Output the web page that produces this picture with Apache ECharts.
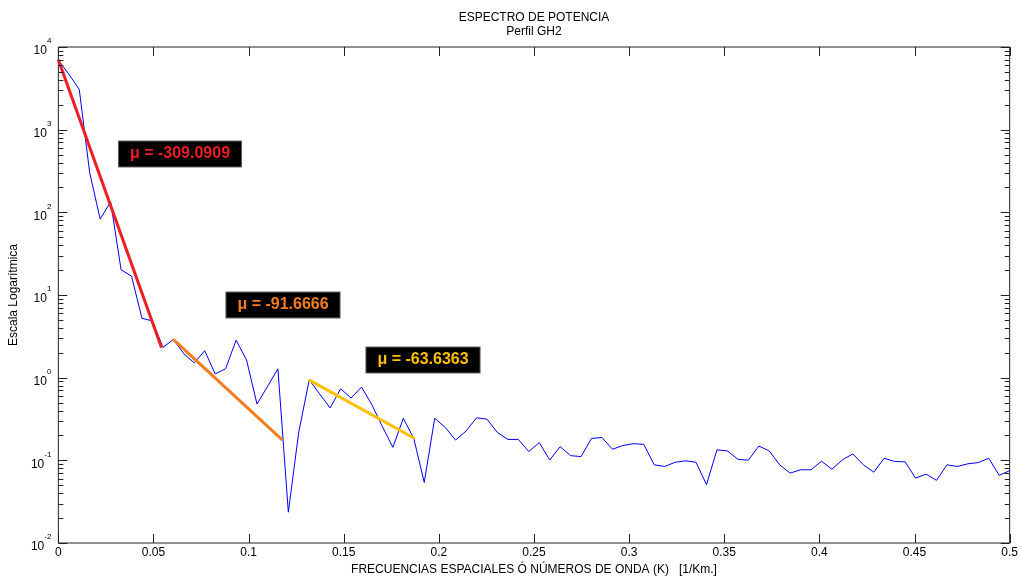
<!DOCTYPE html>
<html>
<head>
<meta charset="utf-8">
<title>Espectro de potencia</title>
<script src="https://cdn.jsdelivr.net/npm/echarts@6/dist/echarts.min.js"></script>
<style>
  html, body { margin: 0; padding: 0; background: #fff; }
  #chart { width: 1021px; height: 581px; }
</style>
</head>
<body>
<div id="chart"></div>
<script>
// paso en frecuencia (1/Km) entre muestras del espectro
const dk = 1 / 182;

// potencia, una por cada muestra k = i * dk
const power = [
  6900, 4700, 3070, 300, 82.8, 134, 20.2, 16.9, 5.22, 4.86,
  2.32, 2.9, 1.95, 1.51, 2.12, 1.11, 1.28, 2.84, 1.64, 0.48,
  0.78, 1.28, 0.0236, 0.222, 0.94, 0.634, 0.43, 0.734, 0.568, 0.769,
  0.468, 0.255, 0.1436, 0.322, 0.184, 0.054, 0.322, 0.251, 0.176, 0.226,
  0.327, 0.315, 0.217, 0.179, 0.179, 0.128, 0.164, 0.101, 0.1465, 0.114,
  0.111, 0.184, 0.189, 0.136, 0.151, 0.159, 0.156, 0.0883, 0.0843, 0.0948,
  0.0986, 0.0948, 0.0508, 0.1337, 0.13, 0.103, 0.1002, 0.149, 0.13, 0.0883,
  0.07, 0.0769, 0.0769, 0.0975, 0.0782, 0.1014, 0.1197, 0.0883, 0.0719, 0.106,
  0.0968, 0.096, 0.061, 0.068, 0.0573, 0.0883, 0.0843, 0.0908, 0.094, 0.106,
  0.0658, 0.075
];

// rectas de ajuste [k, potencia] en sus extremos
const redFit = [[0, 7000], [0.0542, 2.32]];
const orangeFit = [[0.0604, 2.9], [0.1178, 0.176]];
const yellowFit = [[0.1317, 0.94], [0.1873, 0.184]];

// etiquetas de las pendientes
const slopeLabels = ['μ = -309.0909', 'μ = -91.6666', 'μ = -63.6363'];

// marcas de los ejes
const xTicks = [0, 0.05, 0.1, 0.15, 0.2, 0.25, 0.3, 0.35, 0.4, 0.45, 0.5];
const yMajor = [0.01, 0.1, 1, 10, 100, 1000, 10000];
const decades = [-2, -1, 0, 1, 2, 3];

const font = "'Liberation Sans', Arial, sans-serif";
const axisColor = '#222';

const chart = echarts.init(document.getElementById('chart'));

const spectrum = power.map((p, i) => [i * dk, p]);

// marcas del eje y: [0, valor, largo]; las menores 2..9 de cada decada
const yTickData = yMajor.map((v) => [0, v, 9]);
decades.forEach((e) => {
  for (let m = 2; m <= 9; m++) yTickData.push([0, m * Math.pow(10, e), 5]);
});
const xTickData = xTicks.map((k) => [k, 0.01]);

function fitSeries(data, color) {
  return {
    type: 'line',
    data: data,
    showSymbol: false,
    silent: true,
    lineStyle: { color: color, width: 3 },
    itemStyle: { color: color },
    z: 3
  };
}

function slopeBox(text, x, y, color) {
  return {
    type: 'text',
    x: x,
    y: y,
    z: 10,
    style: {
      text: text,
      fill: color,
      fontSize: 16,
      fontWeight: 'bold',
      fontFamily: font,
      align: 'center',
      verticalAlign: 'middle',
      backgroundColor: '#000',
      borderColor: '#666',
      borderWidth: 1,
      padding: [5, 11, 4, 11]
    }
  };
}

const tickStyle = { stroke: axisColor, lineWidth: 1 };

const option = {
  backgroundColor: '#fff',
  animation: false,
  // el marco del grafico hace de ejes en los cuatro lados
  grid: {
    show: true,
    left: 56, right: 9, top: 47, bottom: 34,
    borderColor: axisColor,
    borderWidth: 1,
    backgroundColor: 'transparent'
  },
  xAxis: {
    type: 'value',
    min: 0,
    max: 0.5,
    interval: 0.05,
    axisLine: { show: false, onZero: false },
    axisTick: { show: false },
    splitLine: { show: false },
    axisLabel: {
      color: '#000',
      fontSize: 12,
      fontFamily: font,
      margin: 4,
      showMinLabel: true,
      showMaxLabel: true
    },
    name: 'FRECUENCIAS ESPACIALES Ó NÚMEROS DE ONDA (K)   [1/Km.]',
    nameLocation: 'middle',
    nameGap: 21,
    nameTextStyle: { color: '#000', fontSize: 12, fontFamily: font }
  },
  yAxis: {
    type: 'log',
    logBase: 10,
    min: 0.01,
    max: 10000,
    splitNumber: 6,
    axisLine: { show: false },
    axisTick: { show: false },
    minorTick: { show: false },
    splitLine: { show: false },
    axisLabel: {
      margin: 7,
      formatter: (v) => '{b|10}{s|' + Math.round(Math.log10(v)) + '}',
      rich: {
        b: { fontSize: 12, fontFamily: font, color: '#000', lineHeight: 20, verticalAlign: 'bottom' },
        s: { fontSize: 8, fontFamily: font, color: '#000', lineHeight: 8, verticalAlign: 'top' }
      }
    },
    name: 'Escala Logarítmica',
    nameLocation: 'middle',
    nameGap: 31,
    nameTextStyle: { color: '#000', fontSize: 12, fontFamily: font }
  },
  graphic: [
    {
      type: 'text', x: 534, y: 18,
      style: { text: 'ESPECTRO DE POTENCIA', fill: '#000', fontSize: 12, fontFamily: font, align: 'center', verticalAlign: 'middle' }
    },
    {
      type: 'text', x: 534, y: 32,
      style: { text: 'Perfil GH2', fill: '#000', fontSize: 12, fontFamily: font, align: 'center', verticalAlign: 'middle' }
    },
    slopeBox(slopeLabels[0], 180, 154, '#ee1c24'),
    slopeBox(slopeLabels[1], 283, 305, '#f47d20'),
    slopeBox(slopeLabels[2], 423, 360, '#ffc000')
  ],
  series: [
    {
      // marcas del eje y, a izquierda y derecha hacia dentro
      type: 'custom',
      silent: true,
      clip: false,
      data: yTickData,
      renderItem: (params, api) => {
        const len = api.value(2);
        const l = api.coord([0, api.value(1)]);
        const r = api.coord([0.5, api.value(1)]);
        const y = Math.round(l[1]) + 0.5;
        return {
          type: 'group',
          children: [
            { type: 'line', shape: { x1: l[0], y1: y, x2: l[0] + len, y2: y }, style: tickStyle },
            { type: 'line', shape: { x1: r[0] - len, y1: y, x2: r[0], y2: y }, style: tickStyle }
          ]
        };
      },
      z: 5
    },
    {
      // marcas del eje x, abajo y arriba hacia dentro
      type: 'custom',
      silent: true,
      clip: false,
      data: xTickData,
      renderItem: (params, api) => {
        const b = api.coord([api.value(0), 0.01]);
        const t = api.coord([api.value(0), 10000]);
        const x = Math.round(b[0]) + 0.5;
        return {
          type: 'group',
          children: [
            { type: 'line', shape: { x1: x, y1: b[1], x2: x, y2: b[1] - 9 }, style: tickStyle },
            { type: 'line', shape: { x1: x, y1: t[1], x2: x, y2: t[1] + 9 }, style: tickStyle }
          ]
        };
      },
      z: 5
    },
    {
      type: 'line',
      data: spectrum,
      showSymbol: false,
      silent: true,
      lineStyle: { color: '#0000ff', width: 1 },
      itemStyle: { color: '#0000ff' },
      z: 2
    },
    fitSeries(redFit, '#ee1c24'),
    fitSeries(orangeFit, '#f47d20'),
    fitSeries(yellowFit, '#ffc000')
  ]
};

chart.setOption(option);
</script>
</body>
</html>
